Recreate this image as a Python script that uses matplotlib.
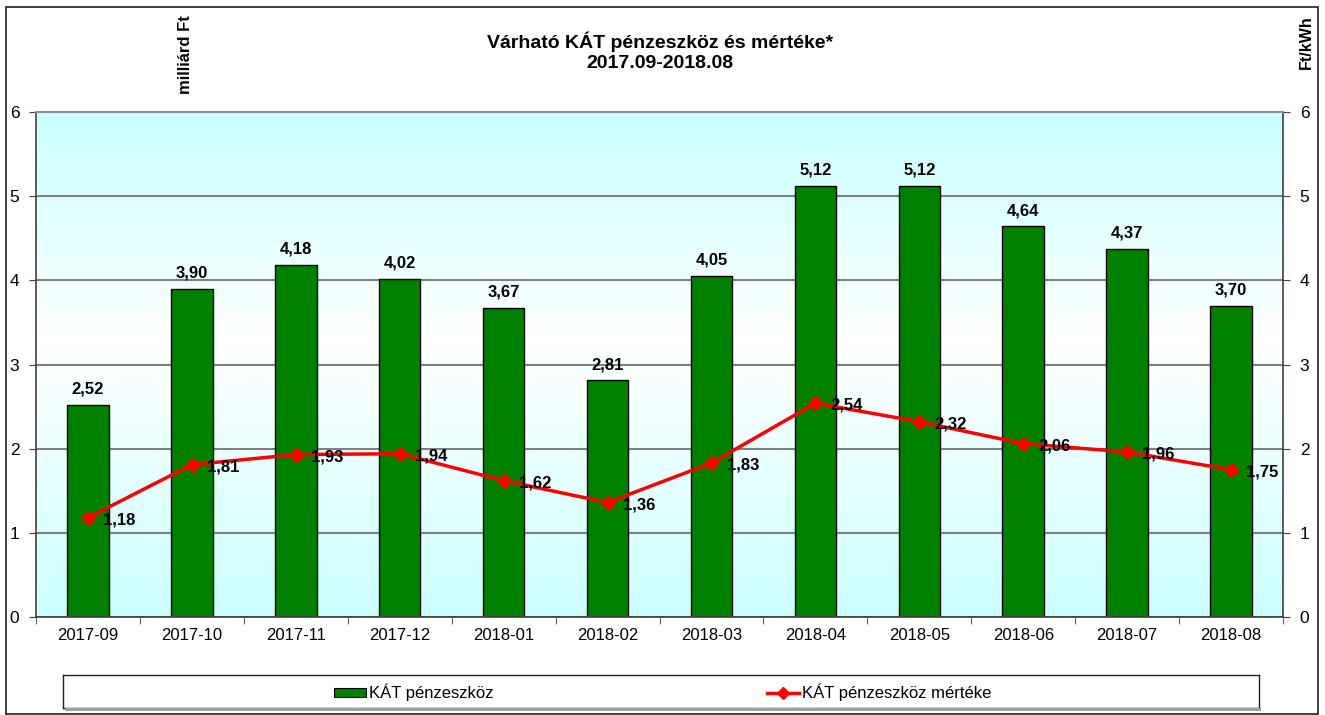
import matplotlib
matplotlib.use("Agg")
import matplotlib.pyplot as plt
import numpy as np
from matplotlib.colors import LinearSegmentedColormap
from matplotlib.patches import Rectangle
from matplotlib.lines import Line2D

plt.rcParams['font.family'] = ['Liberation Sans', 'DejaVu Sans']

categories = ['2017-09', '2017-10', '2017-11', '2017-12', '2018-01', '2018-02',
              '2018-03', '2018-04', '2018-05', '2018-06', '2018-07', '2018-08']
funds = [2.52, 3.90, 4.18, 4.02, 3.67, 2.81, 4.05, 5.12, 5.12, 4.64, 4.37, 3.70]
rate = [1.18, 1.81, 1.93, 1.94, 1.62, 1.36, 1.83, 2.54, 2.32, 2.06, 1.96, 1.75]
title = "Várható KÁT pénzeszköz és mértéke*\n2017.09-2018.08"
left_label = "milliárd Ft"
right_label = "Ft/kWh"
legend_labels = ["KÁT pénzeszköz", "KÁT pénzeszköz mértéke"]

W, H = 1325, 715
fig = plt.figure(figsize=(W / 100, H / 100), dpi=100)
fig.patch.set_facecolor('white')

def fx(px):
    return px / W

def fy(py):
    return 1 - py / H

# outer border
fig.add_artist(Rectangle((fx(6), fy(714)), fx(1318) - fx(6), fy(7) - fy(714),
                         transform=fig.transFigure, fill=False, edgecolor='#202020', lw=1.2))

ax = fig.add_axes([fx(36), fy(617), fx(1283) - fx(36), fy(112) - fy(617)])
x = np.arange(len(categories))

cmap = LinearSegmentedColormap.from_list('bg', [(0, '#CCFFFF'), (0.55, '#FFFFFF'), (1, '#C8FFFF')])
grad = np.linspace(0, 1, 256).reshape(-1, 1)
ax.imshow(grad, extent=[-0.5, 11.5, 0, 6], origin='lower', aspect='auto', cmap=cmap, zorder=0)

ax.set_xlim(-0.5, 11.5)
ax.set_ylim(0, 6)
ax.set_yticks(range(7))
ax.yaxis.grid(True, color='#808080', lw=1.5, zorder=1)
ax.set_axisbelow(True)

bars = ax.bar(x, funds, width=0.4, color='#008000', edgecolor='black', lw=1, zorder=2)
for xi, v in zip(x, funds):
    ax.annotate(f"{v:.2f}".replace('.', ','), (xi, v), xytext=(0, 6), textcoords='offset points',
                ha='center', va='bottom', fontsize=12, fontweight='bold', color='black', zorder=5)

ax.set_xticks(x)
ax.set_xticklabels(categories, fontsize=12)
ax.set_xticks(np.arange(-0.5, 12, 1), minor=True)
ax.tick_params(axis='x', which='major', length=0, pad=8)
ax.tick_params(axis='x', which='minor', length=5, direction='out', color='#404040')
ax.tick_params(axis='y', length=5, direction='out', labelsize=12.5, pad=7, color='#404040')
for s in ['left', 'bottom', 'right']:
    ax.spines[s].set_color('#404040')
    ax.spines[s].set_linewidth(1.2)
ax.spines['top'].set_color('#909090')
ax.spines['top'].set_linewidth(1.5)

ax2 = ax.twinx()
ax2.set_ylim(0, 6)
ax2.set_yticks(range(7))
ax2.tick_params(axis='y', length=5, direction='out', labelsize=12.5, pad=7, color='#404040')
for s in ['left', 'bottom', 'right', 'top']:
    ax2.spines[s].set_visible(False)
ax2.plot(x, rate, color='#FF0000', lw=2.5, marker='D', markersize=7.5, zorder=4)
for xi, v in zip(x, rate):
    ax2.annotate(f"{v:.2f}".replace('.', ','), (xi, v), xytext=(11, -1.5), textcoords='offset points',
                 ha='left', va='center', fontsize=12, fontweight='bold', color='black', zorder=6)

fig.text(0.498, fy(52), title, ha='center', va='center', fontsize=14, fontweight='bold',
         linespacing=1.2)
fig.text(fx(186), fy(55), left_label, rotation=90, ha='center', va='center', fontsize=12,
         fontweight='bold')
fig.text(fx(1306), fy(42), right_label, rotation=90, ha='center', va='center', fontsize=11.5,
         fontweight='bold')

# legend box
lax = fig.add_axes([fx(63), fy(708), fx(1259) - fx(63), fy(675) - fy(708)])
lax.set_xlim(63, 1259)
lax.set_ylim(708, 675)
lax.set_xticks([])
lax.set_yticks([])
for s in lax.spines.values():
    s.set_color('#202020')
    s.set_linewidth(1.0)
lax.add_patch(Rectangle((334, 688), 32, 9, facecolor='#008000', edgecolor='black', lw=0.8))
lax.text(369, 692.5, legend_labels[0], ha='left', va='center', fontsize=12)
lax.add_line(Line2D([767, 799], [692.5, 692.5], color='#FF0000', lw=2.5))
lax.plot([783], [692.5], marker='D', color='#FF0000', markersize=6.5)
lax.text(802, 692.5, legend_labels[1], ha='left', va='center', fontsize=12)
# shadow
fig.add_artist(Rectangle((fx(65), fy(711)), fx(1261) - fx(65), fy(708) - fy(711),
                         transform=fig.transFigure, facecolor='#A0A0A0', edgecolor='none'))

fig.savefig('out.png', dpi=100)
